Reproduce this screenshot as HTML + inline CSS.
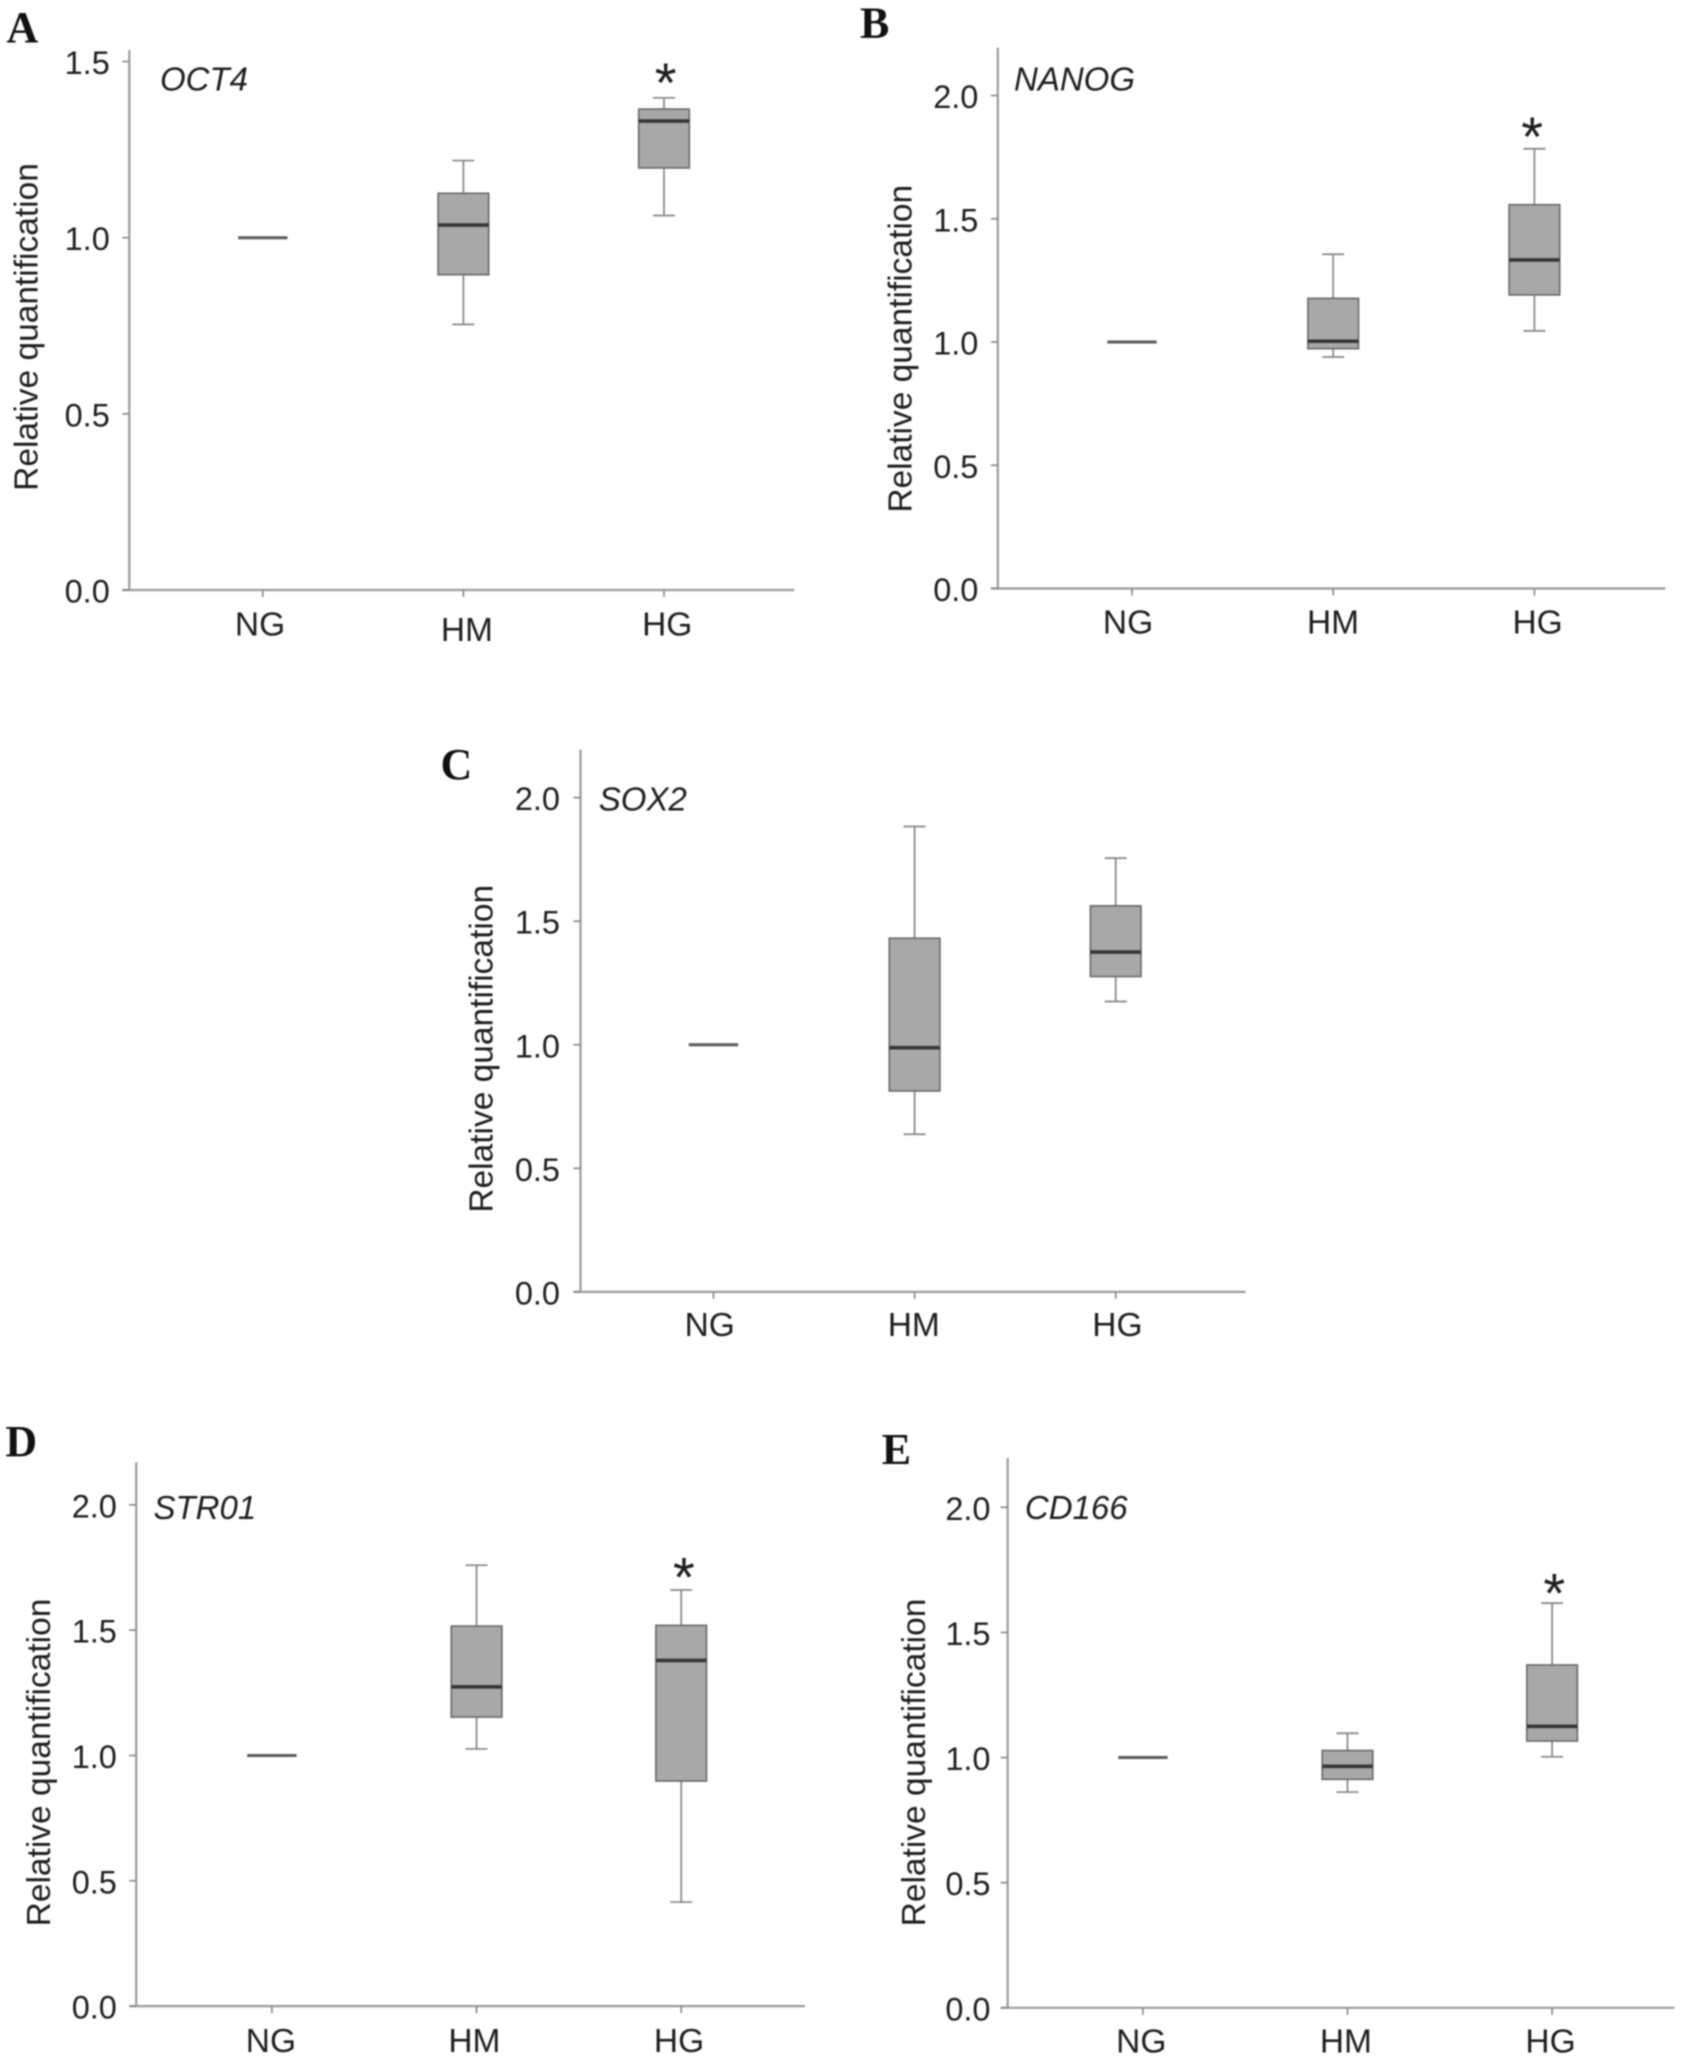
<!DOCTYPE html>
<html lang="en">
<head>
<meta charset="utf-8">
<title>Relative quantification box plots</title>
<style>
  html, body { margin: 0; padding: 0; background: #fff; }
  #figure { display: block; width: 1688px; height: 2065px; filter: blur(0.7px); }
  text { font-family: "Liberation Sans", Arial, sans-serif; fill: #1e1e1e; }
</style>
</head>
<body>
<svg id="figure" xmlns="http://www.w3.org/2000/svg" width="1688" height="2065" viewBox="0 0 1688 2065"></svg>
<script>
// ---- Chart data ----
const categories = ['NG', 'HM', 'HG'];
const yTicksA = [0, 0.5, 1.0, 1.5];
const yTickLabelsA = ['0.0', '0.5', '1.0', '1.5'];
const yTicksOther = [0, 0.5, 1.0, 1.5, 2.0];
const yTickLabelsOther = ['0.0', '0.5', '1.0', '1.5', '2.0'];

// each group: [lower whisker, Q1, median, Q3, upper whisker]
const oct4NG = [1, 1, 1, 1, 1];
const oct4HM = [0.754, 0.895, 1.036, 1.126, 1.219];
const oct4HG = [1.063, 1.198, 1.331, 1.365, 1.397];
const nanogNG = [1, 1, 1, 1, 1];
const nanogHM = [0.939, 0.973, 1.003, 1.177, 1.356];
const nanogHG = [1.045, 1.191, 1.333, 1.557, 1.784];
const sox2NG = [1, 1, 1, 1, 1];
const sox2HM = [0.638, 0.813, 0.988, 1.431, 1.883];
const sox2HG = [1.175, 1.276, 1.375, 1.562, 1.755];
const stro1NG = [1, 1, 1, 1, 1];
const stro1HM = [1.026, 1.153, 1.274, 1.516, 1.759];
const stro1HG = [0.415, 0.898, 1.379, 1.519, 1.660];
const cd166NG = [1, 1, 1, 1, 1];
const cd166HM = [0.862, 0.913, 0.965, 1.028, 1.097];
const cd166HG = [1.003, 1.066, 1.125, 1.370, 1.617];

// significance star height, in axis units (null = no star)
const oct4Star = 1.467;
const nanogStar = 1.872;
const sox2Star = null;
const stro1Star = 1.75;
const cd166Star = 1.696;

// ---- Panel layout ----
const panels = [
  { id: 'a', letter: 'A', gene: 'OCT4', groups: [oct4NG, oct4HM, oct4HG], star: oct4Star, ticks: yTicksA, tickLabels: yTickLabelsA,
    layout: { x0: 129.3, xEnd: 794.3, y0: 590, unit: 352.3, yMax: 1.533, firstX: 262.8, stepX: 200.6, tickGap: 19.5,
      catX: [260, 466.9, 667.2], catY: [635.5, 640.8, 635.5], geneX: 160, geneY: 90.7, letterX: 6.5, letterY: 42, titleX: 37.7, titleY: 327, starDx: 1.7 } },
  { id: 'b', letter: 'B', gene: 'NANOG', groups: [nanogNG, nanogHM, nanogHG], star: nanogStar, ticks: yTicksOther, tickLabels: yTickLabelsOther,
    layout: { x0: 997.8, xEnd: 1665.2, y0: 588.5, unit: 246.5, yMax: 2.194, firstX: 1132, stepX: 201.2, tickGap: 19.4,
      catX: [1128, 1333, 1537.6], catY: [633.4, 633.4, 633.4], geneX: 1014, geneY: 90.4, letterX: 860, letterY: 37.7, titleX: 911.3, titleY: 348.8, starDx: -2.2 } },
  { id: 'c', letter: 'C', gene: 'SOX2', groups: [sox2NG, sox2HM, sox2HG], star: sox2Star, ticks: yTicksOther, tickLabels: yTickLabelsOther,
    layout: { x0: 580.5, xEnd: 1245.5, y0: 1291.9, unit: 247.15, yMax: 2.194, firstX: 713.5, stepX: 201.1, tickGap: 20.5,
      catX: [709.7, 913.8, 1117.4], catY: [1336, 1336, 1336], geneX: 598.8, geneY: 810.7, letterX: 440.5, letterY: 779.2, titleX: 492.7, titleY: 1048.8, starDx: 0 } },
  { id: 'd', letter: 'D', gene: 'STR01', groups: [stro1NG, stro1HM, stro1HG], star: stro1Star, ticks: yTicksOther, tickLabels: yTickLabelsOther,
    layout: { x0: 136.2, xEnd: 805, y0: 2006.1, unit: 250.65, yMax: 2.17, firstX: 271.9, stepX: 204.65, tickGap: 19.3,
      catX: [270.9, 474.4, 679], catY: [2051.8, 2051.8, 2051.8], geneX: 153.5, geneY: 1518.8, letterX: 5.4, letterY: 1455.8, titleX: 50, titleY: 1762.5, starDx: 2.7 } },
  { id: 'e', letter: 'E', gene: 'CD166', groups: [cd166NG, cd166HM, cd166HG], star: cd166Star, ticks: yTicksOther, tickLabels: yTickLabelsOther,
    layout: { x0: 1007.7, xEnd: 1674.4, y0: 2007.8, unit: 250.25, yMax: 2.197, firstX: 1142.9, stepX: 204.6, tickGap: 17.2,
      catX: [1141.3, 1345.9, 1550.5], catY: [2052.6, 2052.6, 2052.6], geneX: 1024.9, geneY: 1518.8, letterX: 881.7, letterY: 1464, titleX: 924.8, titleY: 1762.5, starDx: 2.2 } }
];

const SVG_NS = 'http://www.w3.org/2000/svg';
const figure = document.getElementById('figure');

function mk(tag, props, parent) {
  const node = document.createElementNS(SVG_NS, tag);
  for (const key in props) node.setAttribute(key, props[key]);
  parent.appendChild(node);
  return node;
}

function drawBox(g, stats, cx, y, name) {
  const boxHalf = 25.3, capHalf = 11;
  const low = y(stats[0]), q1 = y(stats[1]), med = y(stats[2]), q3 = y(stats[3]), high = y(stats[4]);
  const group = mk('g', {}, g);
  
  
  const whisker = mk('line', { x1: cx, x2: cx, y1: high, y2: low, stroke: '#858585', 'stroke-width': 1.7 }, group);
  
  
  const capTop = mk('line', { x1: cx - capHalf, x2: cx + capHalf, y1: high, y2: high, stroke: '#858585', 'stroke-width': 1.7 }, group);
  
  
  const capLow = mk('line', { x1: cx - capHalf, x2: cx + capHalf, y1: low, y2: low, stroke: '#858585', 'stroke-width': 1.7 }, group);
  
  
  const box = mk('rect', { x: cx - boxHalf, y: q3, width: boxHalf * 2, height: q1 - q3, fill: '#a8a8a8', stroke: '#686868', 'stroke-width': 1.6 }, group);
  
  
  const median = mk('line', { x1: cx - boxHalf, x2: cx + boxHalf, y1: med, y2: med, stroke: '#363636', 'stroke-width': 3.6 }, group);
  
  
}

function drawReference(g, stats, cx, y, name) {
  const line = mk('line', { x1: cx - 24.7, x2: cx + 24.7, y1: y(stats[2]), y2: y(stats[2]), stroke: '#5a5a5a', 'stroke-width': 3 }, g);
  
  
}

panels.forEach(function (p) {
  const L = p.layout;
  const y = function (v) { return L.y0 - v * L.unit; };
  const x = function (i) { return L.firstX + i * L.stepX; };

  const g = mk('g', {}, figure);
  
  

  const letter = mk('text', { x: L.letterX, y: L.letterY, 'font-size': 44, 'font-weight': 'bold', style: 'font-family:"Liberation Serif",serif;fill:#111' }, g);
  letter.textContent = p.letter;
  
  

  const yAxis = mk('line', { x1: L.x0, x2: L.x0, y1: y(L.yMax), y2: L.y0, stroke: '#9a9a9a', 'stroke-width': 2.2 }, g);
  
  
  const xAxis = mk('line', { x1: L.x0 - 7, x2: L.xEnd, y1: L.y0, y2: L.y0, stroke: '#9a9a9a', 'stroke-width': 2.2 }, g);
  
  

  p.ticks.forEach(function (t, i) {
    const mark = mk('line', { x1: L.x0 - 7, x2: L.x0, y1: y(t), y2: y(t), stroke: '#858585', 'stroke-width': 1.6 }, g);
    
    
    const label = mk('text', { x: L.x0 - L.tickGap, y: y(t) + 12.5, 'font-size': 32.5, 'text-anchor': 'end' }, g);
    label.textContent = p.tickLabels[i];
    
    
  });

  categories.forEach(function (c, i) {
    const mark = mk('line', { x1: x(i), x2: x(i), y1: L.y0, y2: L.y0 + 7, stroke: '#858585', 'stroke-width': 1.6 }, g);
    
    
    const label = mk('text', { x: L.catX[i], y: L.catY[i], 'font-size': 33.5, 'text-anchor': 'middle' }, g);
    label.textContent = c;
    
    
  });

  const title = mk('text', { transform: 'translate(' + L.titleX + ',' + L.titleY + ') rotate(-90)', 'font-size': 33.5, 'text-anchor': 'middle' }, g);
  title.textContent = 'Relative quantification';
  
  

  const gene = mk('text', { x: L.geneX, y: L.geneY, 'font-size': 33, 'font-style': 'italic' }, g);
  gene.textContent = p.gene;
  
  

  drawReference(g, p.groups[0], x(0), y, 'ng-reference-line');
  drawBox(g, p.groups[1], x(1), y, 'box-hm');
  drawBox(g, p.groups[2], x(2), y, 'box-hg');

  if (p.star !== null) {
    const star = mk('text', { x: x(2) + L.starDx, y: y(p.star) + 29, 'font-size': 56, 'text-anchor': 'middle' }, g);
    star.textContent = '*';
    
    
  }
});
</script>
</body>
</html>
